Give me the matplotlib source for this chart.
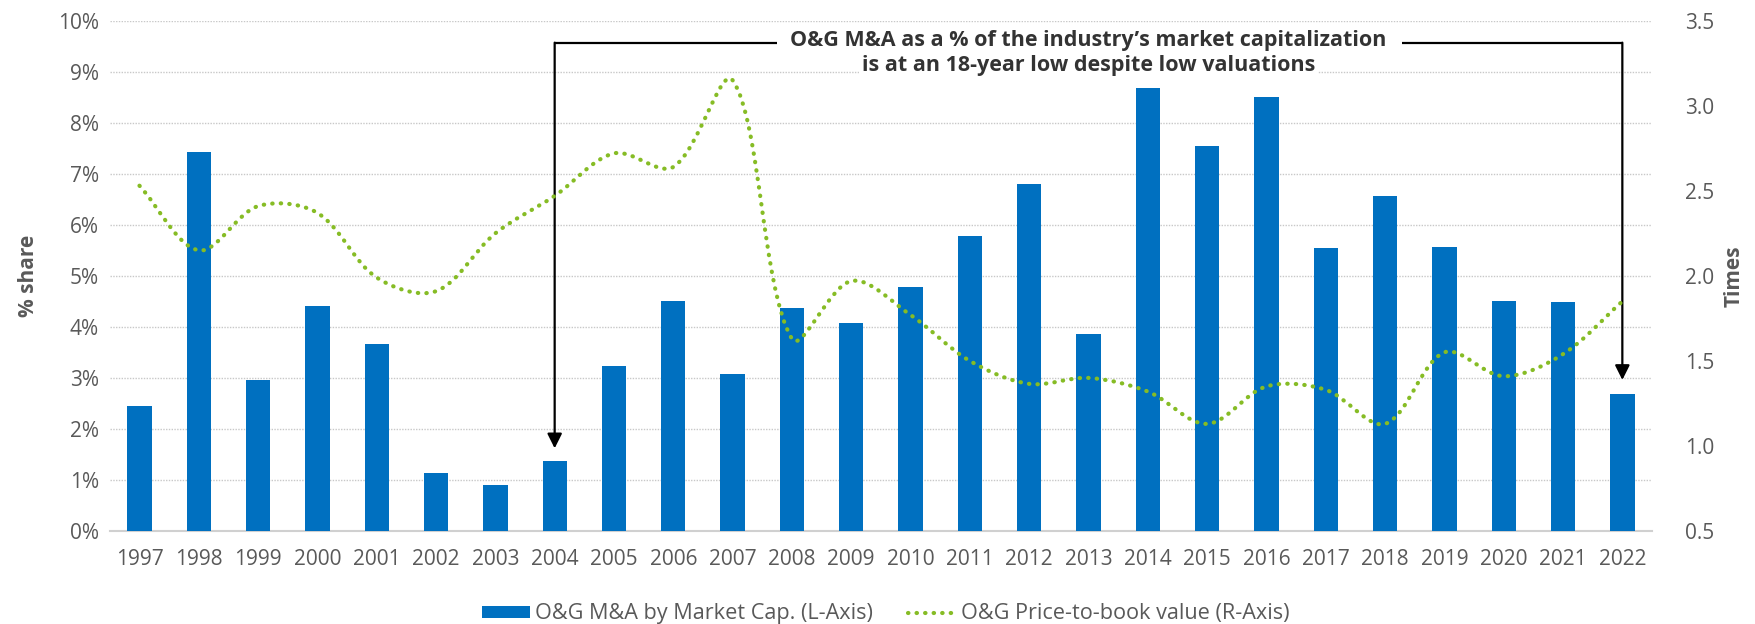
import matplotlib
matplotlib.use("Agg")
import math
import matplotlib.pyplot as plt
from matplotlib.path import Path
from matplotlib.patches import PathPatch, Patch
from matplotlib.lines import Line2D
from matplotlib.ticker import FuncFormatter, MultipleLocator

plt.rcParams['font.family'] = ['Open Sans', 'DejaVu Sans']

years = [str(y) for y in range(1997, 2023)]
ma_share = [2.44, 7.42, 2.95, 4.40, 3.66, 1.13, 0.90, 1.38, 3.23, 4.51, 3.07, 4.37, 4.07,
            4.79, 5.79, 6.80, 3.87, 8.69, 7.55, 8.50, 5.54, 6.56, 5.56, 4.51, 4.48, 2.68]
pb_value = [2.53, 2.15, 2.41, 2.37, 1.99, 1.91, 2.25, 2.47, 2.72, 2.64, 3.15, 1.63, 1.97,
            1.77, 1.50, 1.365, 1.40, 1.32, 1.13, 1.35, 1.33, 1.13, 1.55, 1.41, 1.54, 1.85]
bar_label = "O&G M&A by Market Cap. (L-Axis)"
line_label = "O&G Price-to-book value (R-Axis)"
note_line1 = "O&G M&A as a % of the industry\u2019s market capitalization"
note_line2 = "is at an 18-year low despite low valuations"

BLUE = "#0070C0"
GREEN = "#86BC25"
TXT = "#595959"

W, H = 1756, 624
fig = plt.figure(figsize=(W / 100, H / 100), dpi=100)
fig.patch.set_facecolor("white")
left, right, top, bottom = 109.8, 1652, 20.7, 531
ax = fig.add_axes([left / W, (H - bottom) / H, (right - left) / W, (bottom - top) / H])
ax2 = ax.twinx()

x = list(range(len(years)))
ax.bar(x, ma_share, width=0.41, color=BLUE, zorder=3)
ax.set_xlim(-0.5, len(years) - 0.5)
ax.set_ylim(0, 10)
ax.yaxis.set_major_locator(MultipleLocator(1))
ax.yaxis.set_major_formatter(FuncFormatter(lambda v, p: f"{v:.0f}%"))
ax.set_xticks(x)
ax.set_xticklabels(years)
ax.grid(axis='y', color="#c8c8c8", linestyle=(0, (1, 1)), linewidth=1.0, zorder=0)
ax.set_axisbelow(True)
for s in ["top", "right", "left"]:
    ax.spines[s].set_visible(False)
ax.spines["bottom"].set_color("#d0d0d0")
ax.spines["bottom"].set_linewidth(1.5)
ax.tick_params(axis='both', length=0, labelsize=15, colors=TXT)
ax.tick_params(axis='x', pad=13)
ax.tick_params(axis='y', pad=8)

ax2.set_ylim(0.5, 3.5)
ax2.yaxis.set_major_locator(MultipleLocator(0.5))
ax2.yaxis.set_major_formatter(FuncFormatter(lambda v, p: f"{v:.1f}"))
ax2.tick_params(axis='y', length=0, labelsize=15, colors=TXT, pad=24)
for s in ["top", "right", "left", "bottom"]:
    ax2.spines[s].set_visible(False)

# smoothed line: chord-weighted Bezier through the data points (computed in pixel space)
fig.canvas.draw()
to_px = ax2.transData
inv = to_px.inverted()
pts = [tuple(to_px.transform((xi, yi))) for xi, yi in zip(x, pb_value)]
n = len(pts)
def dist(a, b):
    return math.hypot(a[0] - b[0], a[1] - b[1])
verts_px = [pts[0]]
codes = [Path.MOVETO]
k = 1.0 / 3.0
for i in range(n - 1):
    p0 = pts[max(i - 1, 0)]
    p1 = pts[i]
    p2 = pts[i + 1]
    p3 = pts[min(i + 2, n - 1)]
    # tangent at p1
    dp, dn = dist(p0, p1), dist(p1, p2)
    t1 = ((p2[0] - p0[0]), (p2[1] - p0[1]))
    f1 = k * dn / (dp + dn) if (dp + dn) > 0 else 0
    c1 = (p1[0] + t1[0] * f1, p1[1] + t1[1] * f1)
    dp2, dn2 = dist(p1, p2), dist(p2, p3)
    t2 = ((p3[0] - p1[0]), (p3[1] - p1[1]))
    f2 = k * dp2 / (dp2 + dn2) if (dp2 + dn2) > 0 else 0
    c2 = (p2[0] - t2[0] * f2, p2[1] - t2[1] * f2)
    verts_px += [c1, c2, p2]
    codes += [Path.CURVE4] * 3
verts = [tuple(inv.transform(v)) for v in verts_px]
line_style = (0, (0.1, 1.95))
patch = PathPatch(Path(verts, codes), fill=False, edgecolor=GREEN, linewidth=3.0,
                  linestyle=line_style, capstyle='round', zorder=4)
ax2.add_patch(patch)

# annotation
xc = 16.0
for txt, yb in [(note_line1, 9.50), (note_line2, 9.01)]:
    ax.text(xc, yb, txt, ha='center', va='baseline', fontsize=15.5, fontweight='bold',
            color="#333333", zorder=6,
            bbox=dict(boxstyle='square,pad=0.15', facecolor='white', edgecolor='none'))
ytop = 9.57
ax.plot([7, 10.75], [ytop, ytop], color='black', lw=1.6, zorder=5, solid_capstyle='butt')
ax.plot([21.28, 25], [ytop, ytop], color='black', lw=1.6, zorder=5, solid_capstyle='butt')
ax.annotate('', xy=(7, 1.62), xytext=(7, ytop),
            arrowprops=dict(arrowstyle='-|>', color='black', lw=1.6, mutation_scale=22,
                            shrinkA=0, shrinkB=0), zorder=5)
ax.annotate('', xy=(25, 2.96), xytext=(25, ytop),
            arrowprops=dict(arrowstyle='-|>', color='black', lw=1.6, mutation_scale=22,
                            shrinkA=0, shrinkB=0), zorder=5)

fig.text(29 / W, 1 - 276 / H, "% share", rotation=90, ha='center', va='center',
         fontsize=15, fontweight='bold', color=TXT)
fig.text(1734 / W, 1 - 276 / H, "Times", rotation=90, ha='center', va='center',
         fontsize=15, fontweight='bold', color=TXT)

handles = [Patch(facecolor=BLUE, edgecolor='none'),
           Line2D([0], [0], color=GREEN, linewidth=3.0, linestyle=line_style,
                  dash_capstyle='round', solid_capstyle='round')]
leg = fig.legend(handles, [bar_label, line_label], loc='center', ncol=2,
                 bbox_to_anchor=(886 / W, 10 / H), frameon=False, fontsize=15.6,
                 handlelength=2.2, handleheight=0.5, handletextpad=0.25, columnspacing=1.6,
                 labelcolor=TXT)

fig.savefig("out.png", dpi=100, facecolor='white')
